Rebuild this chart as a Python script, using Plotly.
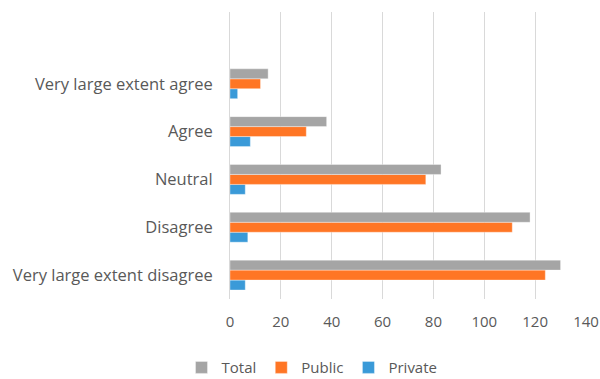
import plotly.graph_objects as go

categories = ["Very large extent disagree", "Disagree", "Neutral", "Agree", "Very large extent agree"]
total = [130, 118, 83, 38, 15]
public = [124, 111, 77, 30, 12]
private = [6, 7, 6, 8, 3]
x_ticks = [0, 20, 40, 60, 80, 100, 120, 140]

colors = {"Total": "#A5A5A5", "Public": "#FF7625", "Private": "#3A9AD8"}
font_family = "Open Sans, Noto Sans, sans-serif"

fig = go.Figure()
# Trace order bottom-to-top inside each group: Private, Public, Total
for name, vals, rank in [("Private", private, 3), ("Public", public, 2), ("Total", total, 1)]:
    fig.add_trace(go.Bar(
        y=categories, x=vals, name=name, orientation="h",
        marker=dict(color=colors[name], line=dict(color="rgba(255,255,255,0.6)", width=0.6)),
        legendrank=rank,
    ))

fig.update_layout(
    width=600, height=379,
    margin=dict(l=230, r=14, t=12, b=80),
    paper_bgcolor="white", plot_bgcolor="white",
    barmode="group", bargap=0.375, bargroupgap=0,
    font=dict(family=font_family, size=16, color="#595959"),
    xaxis=dict(
        range=[0, 140], tickvals=x_ticks, showgrid=True, gridcolor="#D9D9D9", gridwidth=1,
        zeroline=False, showline=False, ticks="", ticklabelstandoff=12,
        tickfont=dict(size=15, color="#595959"), automargin=False,
    ),
    yaxis=dict(
        type="category", categoryorder="array", categoryarray=categories,
        range=[-0.5, 5.5], showgrid=False, zeroline=False,
        showline=True, linecolor="#D9D9D9", linewidth=1, ticks="", ticklabelstandoff=13,
        tickfont=dict(size=16.5, color="#595959"), automargin=False,
    ),
    legend=dict(
        orientation="h", xref="container", yref="container",
        x=0.52, y=0.03, xanchor="center", yanchor="middle",
        font=dict(size=15, color="#595959"), itemwidth=30,
        traceorder="normal",
    ),
    showlegend=True,
)

fig.write_html("out.html")
